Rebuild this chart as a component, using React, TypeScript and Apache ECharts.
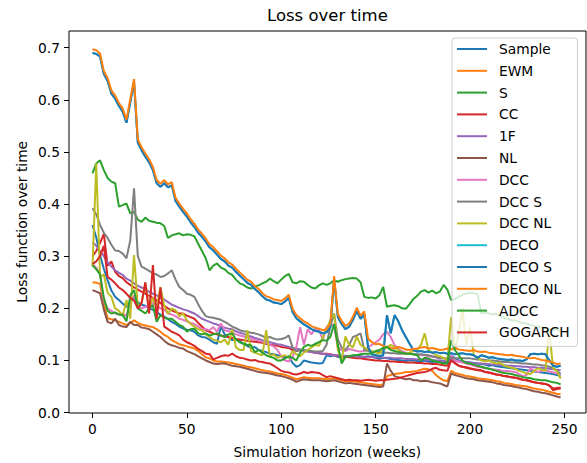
import React, { useEffect, useRef } from "react";
import * as echarts from "echarts";

// Simulation horizon sampled every second week (0 .. 248)
const WEEKS: number[] = Array.from({ length: 125 }, (_, i) => i * 2);

const SERIES_NAMES = [
  "Sample", "EWM", "S", "CC", "1F", "NL", "DCC", "DCC S", "DCC NL",
  "DECO", "DECO S", "DECO NL", "ADCC", "GOGARCH",
];

const COLORS = [
  "#1f77b4", "#ff7f0e", "#2ca02c", "#d62728", "#9467bd", "#8c564b", "#e377c2",
  "#7f7f7f", "#bcbd22", "#17becf", "#1f77b4", "#ff7f0e", "#2ca02c", "#d62728",
];

const X_TICKS = [0, 50, 100, 150, 200, 250];
const Y_TICKS = [0, 0.1, 0.2, 0.3, 0.4, 0.5, 0.6, 0.7];

const sampleLoss = [
  0.360, 0.336, 0.302, 0.276, 0.254, 0.234, 0.222, 0.216, 0.209, 0.203,
  0.211, 0.222, 0.212, 0.207, 0.205, 0.200, 0.197, 0.192, 0.188, 0.184,
  0.179, 0.174, 0.170, 0.165, 0.161, 0.159, 0.158, 0.155, 0.148, 0.145,
  0.144, 0.140, 0.135, 0.132, 0.166, 0.150, 0.145, 0.139, 0.141, 0.137,
  0.132, 0.128, 0.124, 0.126, 0.120, 0.118, 0.116, 0.113, 0.112, 0.110,
  0.108, 0.106, 0.107, 0.095, 0.088, 0.091, 0.100, 0.098, 0.096, 0.095,
  0.094, 0.095, 0.110, 0.108, 0.110, 0.107, 0.105, 0.106, 0.108, 0.109,
  0.110, 0.108, 0.106, 0.108, 0.107, 0.105, 0.103, 0.105, 0.104, 0.103,
  0.102, 0.101, 0.100, 0.099, 0.101, 0.100, 0.099, 0.098, 0.100, 0.098,
  0.097, 0.098, 0.097, 0.096, 0.095, 0.110, 0.104, 0.100, 0.098, 0.097,
  0.096, 0.095, 0.094, 0.093, 0.092, 0.090, 0.091, 0.089, 0.088, 0.087,
  0.086, 0.085, 0.084, 0.083, 0.082, 0.081, 0.080, 0.079, 0.078, 0.077,
  0.076, 0.075, 0.074, 0.072, 0.070,
];

const ewmLoss = [
  0.250, 0.249, 0.247, 0.208, 0.181, 0.179, 0.177, 0.174, 0.171, 0.168,
  0.172, 0.177, 0.172, 0.169, 0.167, 0.165, 0.164, 0.160, 0.155, 0.149,
  0.145, 0.139, 0.135, 0.131, 0.129, 0.127, 0.125, 0.123, 0.118, 0.112,
  0.106, 0.104, 0.100, 0.098, 0.098, 0.097, 0.096, 0.095, 0.093, 0.092,
  0.090, 0.088, 0.087, 0.085, 0.083, 0.081, 0.080, 0.079, 0.077, 0.075,
  0.074, 0.072, 0.070, 0.067, 0.064, 0.066, 0.068, 0.067, 0.066, 0.066,
  0.066, 0.065, 0.064, 0.065, 0.066, 0.064, 0.062, 0.060, 0.061, 0.060,
  0.059, 0.058, 0.057, 0.056, 0.055, 0.054, 0.053, 0.054, 0.070, 0.072,
  0.074, 0.075, 0.076, 0.078, 0.078, 0.079, 0.080, 0.082, 0.084, 0.083,
  0.080, 0.072, 0.066, 0.062, 0.060, 0.080, 0.076, 0.074, 0.072, 0.070,
  0.069, 0.068, 0.066, 0.065, 0.064, 0.063, 0.062, 0.060, 0.059, 0.057,
  0.056, 0.055, 0.053, 0.052, 0.051, 0.050, 0.048, 0.046, 0.045, 0.044,
  0.042, 0.040, 0.038, 0.036, 0.035,
];

const sLoss = [
  0.459, 0.478, 0.484, 0.465, 0.450, 0.443, 0.440, 0.395, 0.398, 0.401,
  0.382, 0.385, 0.370, 0.366, 0.374, 0.368, 0.366, 0.364, 0.363, 0.358,
  0.335, 0.340, 0.342, 0.344, 0.340, 0.342, 0.341, 0.338, 0.324, 0.310,
  0.296, 0.273, 0.282, 0.286, 0.278, 0.275, 0.268, 0.264, 0.255, 0.248,
  0.245, 0.240, 0.238, 0.242, 0.244, 0.248, 0.251, 0.257, 0.252, 0.248,
  0.255, 0.262, 0.266, 0.250, 0.248, 0.252, 0.251, 0.245, 0.240, 0.238,
  0.244, 0.248, 0.245, 0.248, 0.254, 0.251, 0.254, 0.256, 0.257, 0.258,
  0.257, 0.250, 0.222, 0.220, 0.221, 0.219, 0.225, 0.241, 0.203, 0.205,
  0.206, 0.204, 0.200, 0.199, 0.208, 0.218, 0.224, 0.232, 0.235, 0.230,
  0.234, 0.229, 0.232, 0.245, 0.236, 0.216, 0.218, 0.222, 0.226, 0.228,
  0.230, 0.229, 0.227, 0.190, 0.192, 0.190, 0.188, 0.190, 0.185, 0.182,
  0.180, 0.177, 0.176, 0.174, 0.172, 0.171, 0.168, 0.166, 0.165, 0.163,
  0.162, 0.160, 0.158, 0.160, 0.155,
];

const ccLoss = [
  0.300, 0.310, 0.325, 0.343, 0.282, 0.290, 0.270, 0.262, 0.258, 0.250,
  0.245, 0.240, 0.236, 0.232, 0.228, 0.224, 0.220, 0.215, 0.210, 0.205,
  0.200, 0.196, 0.193, 0.190, 0.190, 0.186, 0.183, 0.180, 0.172, 0.165,
  0.158, 0.155, 0.152, 0.150, 0.148, 0.146, 0.145, 0.143, 0.141, 0.140,
  0.139, 0.138, 0.137, 0.136, 0.135, 0.134, 0.132, 0.130, 0.129, 0.128,
  0.126, 0.125, 0.124, 0.120, 0.118, 0.120, 0.119, 0.118, 0.116, 0.115,
  0.114, 0.113, 0.113, 0.112, 0.110, 0.109, 0.108, 0.107, 0.106, 0.105,
  0.104, 0.104, 0.103, 0.102, 0.101, 0.100, 0.100, 0.099, 0.099, 0.098,
  0.098, 0.097, 0.097, 0.096, 0.096, 0.096, 0.095, 0.095, 0.094, 0.094,
  0.093, 0.093, 0.092, 0.091, 0.090, 0.102, 0.095, 0.090, 0.088, 0.086,
  0.084, 0.083, 0.081, 0.080, 0.078, 0.077, 0.075, 0.073, 0.072, 0.070,
  0.069, 0.068, 0.067, 0.065, 0.063, 0.062, 0.060, 0.058, 0.057, 0.056,
  0.055, 0.052, 0.046, 0.047, 0.048,
];

const oneFactorLoss = [
  0.327, 0.320, 0.310, 0.300, 0.288, 0.280, 0.273, 0.268, 0.264, 0.257,
  0.253, 0.248, 0.243, 0.240, 0.236, 0.232, 0.228, 0.225, 0.221, 0.217,
  0.212, 0.207, 0.204, 0.201, 0.198, 0.196, 0.193, 0.190, 0.185, 0.180,
  0.177, 0.174, 0.171, 0.169, 0.166, 0.163, 0.161, 0.160, 0.156, 0.153,
  0.151, 0.148, 0.146, 0.143, 0.141, 0.139, 0.138, 0.135, 0.133, 0.131,
  0.130, 0.128, 0.126, 0.124, 0.123, 0.121, 0.118, 0.117, 0.116, 0.115,
  0.114, 0.113, 0.112, 0.111, 0.110, 0.110, 0.109, 0.109, 0.108, 0.108,
  0.108, 0.107, 0.107, 0.107, 0.106, 0.106, 0.106, 0.105, 0.105, 0.105,
  0.104, 0.104, 0.104, 0.103, 0.103, 0.103, 0.102, 0.102, 0.102, 0.101,
  0.101, 0.100, 0.100, 0.099, 0.099, 0.100, 0.099, 0.098, 0.097, 0.096,
  0.096, 0.095, 0.094, 0.094, 0.093, 0.093, 0.092, 0.092, 0.091, 0.091,
  0.090, 0.090, 0.089, 0.089, 0.088, 0.088, 0.087, 0.087, 0.086, 0.086,
  0.085, 0.084, 0.083, 0.082, 0.081,
];

const nlLoss = [
  0.235, 0.232, 0.229, 0.198, 0.174, 0.171, 0.180, 0.168, 0.165, 0.164,
  0.174, 0.168, 0.168, 0.163, 0.162, 0.160, 0.155, 0.150, 0.145, 0.138,
  0.132, 0.129, 0.127, 0.124, 0.123, 0.118, 0.115, 0.112, 0.108, 0.104,
  0.100, 0.097, 0.094, 0.093, 0.094, 0.094, 0.092, 0.090, 0.089, 0.088,
  0.086, 0.084, 0.082, 0.080, 0.078, 0.077, 0.076, 0.075, 0.073, 0.071,
  0.070, 0.068, 0.066, 0.063, 0.059, 0.062, 0.064, 0.063, 0.062, 0.062,
  0.062, 0.061, 0.060, 0.061, 0.062, 0.060, 0.058, 0.056, 0.057, 0.056,
  0.055, 0.054, 0.053, 0.052, 0.051, 0.050, 0.049, 0.050, 0.094, 0.080,
  0.070, 0.068, 0.066, 0.064, 0.065, 0.062, 0.062, 0.060, 0.061, 0.060,
  0.058, 0.057, 0.056, 0.053, 0.050, 0.075, 0.072, 0.070, 0.068, 0.066,
  0.065, 0.064, 0.062, 0.061, 0.060, 0.059, 0.058, 0.056, 0.055, 0.053,
  0.052, 0.051, 0.049, 0.048, 0.046, 0.045, 0.043, 0.041, 0.040, 0.038,
  0.037, 0.035, 0.033, 0.031, 0.029,
];

const dccLoss = [
  0.285, 0.278, 0.265, 0.215, 0.200, 0.195, 0.190, 0.188, 0.190, 0.185,
  0.215, 0.225, 0.205, 0.200, 0.203, 0.205, 0.210, 0.205, 0.200, 0.198,
  0.190, 0.188, 0.185, 0.180, 0.178, 0.175, 0.172, 0.170, 0.165, 0.160,
  0.160, 0.158, 0.164, 0.155, 0.171, 0.158, 0.156, 0.154, 0.150, 0.148,
  0.146, 0.144, 0.142, 0.140, 0.138, 0.136, 0.134, 0.130, 0.127, 0.120,
  0.108, 0.100, 0.098, 0.107, 0.126, 0.164, 0.130, 0.160, 0.150, 0.162,
  0.158, 0.140, 0.164, 0.172, 0.165, 0.125, 0.120, 0.118, 0.122, 0.120,
  0.118, 0.117, 0.118, 0.125, 0.130, 0.135, 0.140, 0.150, 0.155, 0.145,
  0.130, 0.122, 0.118, 0.115, 0.113, 0.112, 0.111, 0.110, 0.110, 0.108,
  0.107, 0.106, 0.105, 0.104, 0.103, 0.110, 0.100, 0.098, 0.096, 0.094,
  0.092, 0.090, 0.088, 0.087, 0.085, 0.084, 0.083, 0.082, 0.081, 0.080,
  0.080, 0.079, 0.078, 0.074, 0.070, 0.072, 0.085, 0.080, 0.078, 0.080,
  0.081, 0.079, 0.077, 0.075, 0.074,
];

const dccSLoss = [
  0.392, 0.380, 0.360, 0.345, 0.335, 0.322, 0.311, 0.310, 0.305, 0.296,
  0.330, 0.430, 0.300, 0.280, 0.276, 0.272, 0.267, 0.265, 0.260, 0.262,
  0.267, 0.273, 0.255, 0.241, 0.235, 0.228, 0.226, 0.222, 0.208, 0.195,
  0.185, 0.183, 0.182, 0.180, 0.178, 0.174, 0.170, 0.165, 0.162, 0.158,
  0.156, 0.155, 0.153, 0.152, 0.150, 0.147, 0.143, 0.145, 0.142, 0.140,
  0.141, 0.143, 0.148, 0.125, 0.118, 0.120, 0.120, 0.119, 0.118, 0.117,
  0.117, 0.118, 0.130, 0.165, 0.190, 0.140, 0.125, 0.120, 0.130, 0.145,
  0.148, 0.152, 0.120, 0.118, 0.117, 0.116, 0.116, 0.115, 0.115, 0.114,
  0.114, 0.113, 0.113, 0.113, 0.113, 0.112, 0.112, 0.112, 0.111, 0.110,
  0.108, 0.106, 0.104, 0.104, 0.104, 0.105, 0.104, 0.104, 0.104, 0.104,
  0.104, 0.103, 0.102, 0.102, 0.101, 0.100, 0.100, 0.099, 0.098, 0.097,
  0.097, 0.096, 0.096, 0.095, 0.094, 0.094, 0.093, 0.092, 0.092, 0.091,
  0.090, 0.088, 0.085, 0.080, 0.074,
];

const dccNlLoss = [
  0.280, 0.478, 0.260, 0.265, 0.230, 0.222, 0.200, 0.195, 0.185, 0.216,
  0.180, 0.302, 0.203, 0.210, 0.248, 0.200, 0.220, 0.200, 0.241, 0.205,
  0.190, 0.200, 0.196, 0.185, 0.190, 0.177, 0.170, 0.165, 0.160, 0.158,
  0.150, 0.145, 0.140, 0.138, 0.135, 0.140, 0.130, 0.160, 0.125, 0.120,
  0.120, 0.158, 0.118, 0.115, 0.112, 0.110, 0.158, 0.108, 0.112, 0.105,
  0.108, 0.110, 0.105, 0.118, 0.112, 0.108, 0.115, 0.120, 0.125, 0.130,
  0.128, 0.145, 0.160, 0.177, 0.190, 0.120, 0.100, 0.146, 0.130, 0.125,
  0.146, 0.130, 0.125, 0.120, 0.118, 0.115, 0.113, 0.120, 0.125, 0.130,
  0.126, 0.120, 0.115, 0.112, 0.115, 0.118, 0.120, 0.130, 0.152, 0.120,
  0.115, 0.110, 0.108, 0.105, 0.100, 0.183, 0.120, 0.150, 0.200, 0.130,
  0.164, 0.110, 0.105, 0.100, 0.098, 0.100, 0.096, 0.094, 0.095, 0.090,
  0.088, 0.086, 0.084, 0.080, 0.078, 0.075, 0.074, 0.080, 0.085, 0.082,
  0.080, 0.158, 0.085, 0.080, 0.065,
];

const decoSLoss = [
  0.690, 0.688, 0.683, 0.650, 0.636, 0.612, 0.602, 0.588, 0.577, 0.556,
  0.595, 0.634, 0.518, 0.503, 0.491, 0.480, 0.465, 0.440, 0.433, 0.440,
  0.432, 0.436, 0.406, 0.395, 0.385, 0.376, 0.365, 0.356, 0.345, 0.337,
  0.328, 0.317, 0.311, 0.303, 0.295, 0.290, 0.282, 0.278, 0.270, 0.263,
  0.256, 0.249, 0.245, 0.237, 0.231, 0.223, 0.217, 0.215, 0.211, 0.210,
  0.208, 0.213, 0.220, 0.193, 0.181, 0.175, 0.169, 0.165, 0.160, 0.157,
  0.155, 0.152, 0.154, 0.164, 0.256, 0.183, 0.170, 0.160, 0.165, 0.178,
  0.195, 0.180, 0.188, 0.125, 0.112, 0.110, 0.108, 0.110, 0.187, 0.152,
  0.187, 0.175, 0.158, 0.145, 0.132, 0.120, 0.117, 0.118, 0.116, 0.117,
  0.115, 0.116, 0.114, 0.115, 0.113, 0.114, 0.112, 0.113, 0.114, 0.112,
  0.112, 0.110, 0.105, 0.110, 0.108, 0.105, 0.106, 0.104, 0.103, 0.102,
  0.101, 0.102, 0.100, 0.100, 0.099, 0.102, 0.112, 0.113, 0.112, 0.113,
  0.112, 0.100, 0.090, 0.088, 0.090,
];

// DECO coincides with DECO S over the whole horizon
const decoLoss = decoSLoss;

const decoNlLoss = [
  0.697, 0.695, 0.689, 0.655, 0.642, 0.618, 0.608, 0.594, 0.583, 0.562,
  0.601, 0.640, 0.524, 0.509, 0.497, 0.486, 0.471, 0.446, 0.439, 0.446,
  0.438, 0.442, 0.412, 0.401, 0.391, 0.382, 0.371, 0.362, 0.351, 0.343,
  0.334, 0.323, 0.317, 0.309, 0.301, 0.296, 0.288, 0.284, 0.276, 0.269,
  0.262, 0.255, 0.251, 0.243, 0.237, 0.229, 0.223, 0.221, 0.217, 0.216,
  0.214, 0.219, 0.226, 0.199, 0.187, 0.181, 0.175, 0.171, 0.166, 0.163,
  0.161, 0.158, 0.160, 0.170, 0.262, 0.189, 0.176, 0.166, 0.171, 0.184,
  0.201, 0.186, 0.194, 0.142, 0.135, 0.131, 0.132, 0.128, 0.126, 0.124,
  0.123, 0.126, 0.124, 0.121, 0.120, 0.122, 0.123, 0.125, 0.126, 0.123,
  0.124, 0.122, 0.120, 0.121, 0.123, 0.121, 0.124, 0.121, 0.120, 0.119,
  0.118, 0.120, 0.117, 0.116, 0.117, 0.115, 0.114, 0.113, 0.112, 0.111,
  0.110, 0.111, 0.109, 0.108, 0.107, 0.105, 0.104, 0.105, 0.103, 0.101,
  0.100, 0.098, 0.096, 0.093, 0.094,
];

const adccLoss = [
  0.283, 0.275, 0.265, 0.220, 0.195, 0.190, 0.192, 0.188, 0.187, 0.175,
  0.225, 0.235, 0.200, 0.195, 0.190, 0.200, 0.206, 0.174, 0.187, 0.182,
  0.180, 0.180, 0.174, 0.168, 0.165, 0.155, 0.160, 0.161, 0.152, 0.150,
  0.152, 0.148, 0.150, 0.152, 0.148, 0.145, 0.150, 0.152, 0.140, 0.135,
  0.132, 0.130, 0.129, 0.116, 0.120, 0.115, 0.110, 0.107, 0.105, 0.100,
  0.100, 0.104, 0.108, 0.105, 0.100, 0.115, 0.126, 0.130, 0.128, 0.132,
  0.135, 0.139, 0.138, 0.145, 0.170, 0.130, 0.094, 0.107, 0.108, 0.110,
  0.110, 0.112, 0.113, 0.113, 0.114, 0.118, 0.120, 0.124, 0.126, 0.120,
  0.118, 0.116, 0.115, 0.113, 0.113, 0.112, 0.110, 0.100, 0.105, 0.104,
  0.100, 0.098, 0.096, 0.094, 0.094, 0.139, 0.120, 0.110, 0.100, 0.095,
  0.094, 0.092, 0.090, 0.088, 0.086, 0.084, 0.082, 0.080, 0.078, 0.076,
  0.075, 0.074, 0.072, 0.070, 0.068, 0.067, 0.066, 0.064, 0.063, 0.062,
  0.062, 0.060, 0.058, 0.057, 0.054,
];

const gogarchLoss = [
  0.285, 0.290, 0.300, 0.320, 0.260, 0.255, 0.248, 0.240, 0.235, 0.228,
  0.220, 0.215, 0.200, 0.210, 0.250, 0.190, 0.283, 0.180, 0.240, 0.165,
  0.160, 0.155, 0.152, 0.148, 0.140, 0.135, 0.132, 0.128, 0.122, 0.118,
  0.113, 0.112, 0.102, 0.105, 0.108, 0.110, 0.109, 0.113, 0.108, 0.105,
  0.104, 0.102, 0.100, 0.101, 0.098, 0.097, 0.095, 0.094, 0.090, 0.085,
  0.080, 0.078, 0.077, 0.074, 0.073, 0.075, 0.078, 0.076, 0.078, 0.077,
  0.076, 0.072, 0.068, 0.070, 0.068, 0.066, 0.064, 0.062, 0.063, 0.062,
  0.062, 0.061, 0.062, 0.063, 0.062, 0.061, 0.062, 0.062, 0.063, 0.064,
  0.065, 0.066, 0.068, 0.070, 0.072, 0.074, 0.076, 0.077, 0.078, 0.080,
  0.084, 0.086, 0.082, 0.081, 0.080, 0.100, 0.095, 0.090, 0.088, 0.087,
  0.085, 0.083, 0.082, 0.081, 0.078, 0.077, 0.075, 0.073, 0.072, 0.070,
  0.069, 0.068, 0.067, 0.065, 0.063, 0.062, 0.060, 0.058, 0.057, 0.056,
  0.055, 0.052, 0.043, 0.045, 0.046,
];

const SERIES_VALUES: number[][] = [
  sampleLoss, ewmLoss, sLoss, ccLoss, oneFactorLoss, nlLoss, dccLoss,
  dccSLoss, dccNlLoss, decoLoss, decoSLoss, decoNlLoss, adccLoss, gogarchLoss,
];

const FONT = "DejaVu Sans";

export default function App() {
  const ref = useRef<HTMLDivElement>(null);

  useEffect(() => {
    if (!ref.current) return;
    const chart = echarts.init(ref.current, undefined, { renderer: "svg" });

    const grid = { left: 69, top: 31, width: 517, height: 382 };

    chart.setOption({
      animation: false,
      backgroundColor: "#ffffff",
      grid: {
        ...grid,
        show: true,
        borderColor: "#000000",
        borderWidth: 1,
        backgroundColor: "transparent",
      },
      xAxis: {
        type: "value",
        min: -12.45,
        max: 261.45,
        axisLine: { show: false, onZero: false },
        splitLine: { show: false },
        axisTick: {
          show: true,
          length: 5,
          customValues: X_TICKS,
          lineStyle: { color: "#000000", width: 1 },
        },
        axisLabel: {
          customValues: X_TICKS,
          margin: 9,
          color: "#000000",
          fontFamily: FONT,
          fontSize: 13.8,
          formatter: (v: number) => String(v),
        },
      },
      yAxis: {
        type: "value",
        min: -0.0008,
        max: 0.732,
        axisLine: { show: false, onZero: false },
        splitLine: { show: false },
        axisTick: {
          show: true,
          length: 5,
          customValues: Y_TICKS,
          lineStyle: { color: "#000000", width: 1 },
        },
        axisLabel: {
          customValues: Y_TICKS,
          margin: 9,
          color: "#000000",
          fontFamily: FONT,
          fontSize: 13.8,
          formatter: (v: number) => v.toFixed(1),
        },
      },
      legend: {
        show: true,
        orient: "vertical",
        left: 452,
        top: 38,
        padding: [4, 8, 7, 5],
        icon: "rect",
        itemWidth: 30,
        itemHeight: 2,
        itemGap: 7.8,
        backgroundColor: "rgba(255,255,255,0.8)",
        borderColor: "#cccccc",
        borderWidth: 1,
        borderRadius: 3,
        selectedMode: false,
        textStyle: {
          color: "#000000",
          fontFamily: FONT,
          fontSize: 13.8,
          lineHeight: 14,
          padding: [0, 0, 0, 7],
        },
        data: SERIES_NAMES,
      },
      graphic: [
        {
          type: "text",
          x: 327.4,
          y: 15.5,
          style: {
            text: "Loss over time",
            font: `16.5px "${FONT}"`,
            fill: "#000000",
            textAlign: "center",
            textVerticalAlign: "middle",
          },
        },
        {
          type: "text",
          x: 327.4,
          y: 451.5,
          style: {
            text: "Simulation horizon (weeks)",
            font: `13.8px "${FONT}"`,
            fill: "#000000",
            textAlign: "center",
            textVerticalAlign: "middle",
          },
        },
        {
          type: "text",
          x: 21.5,
          y: 221.8,
          rotation: Math.PI / 2,
          style: {
            text: "Loss function over time",
            font: `13.8px "${FONT}"`,
            fill: "#000000",
            textAlign: "center",
            textVerticalAlign: "middle",
          },
        },
      ],
      series: SERIES_NAMES.map((name, idx) => ({
        name,
        type: "line",
        data: WEEKS.map((w, i) => [w, SERIES_VALUES[idx][i]]),
        symbol: "none",
        showSymbol: false,
        clip: true,
        silent: true,
        color: COLORS[idx],
        lineStyle: { color: COLORS[idx], width: 2 },
        emphasis: { disabled: true },
      })),
    });

    return () => chart.dispose();
  }, []);

  return (
    <div
      ref={ref}
      style={{ position: "fixed", left: 0, top: 0, width: 587, height: 463 }}
    />
  );
}
